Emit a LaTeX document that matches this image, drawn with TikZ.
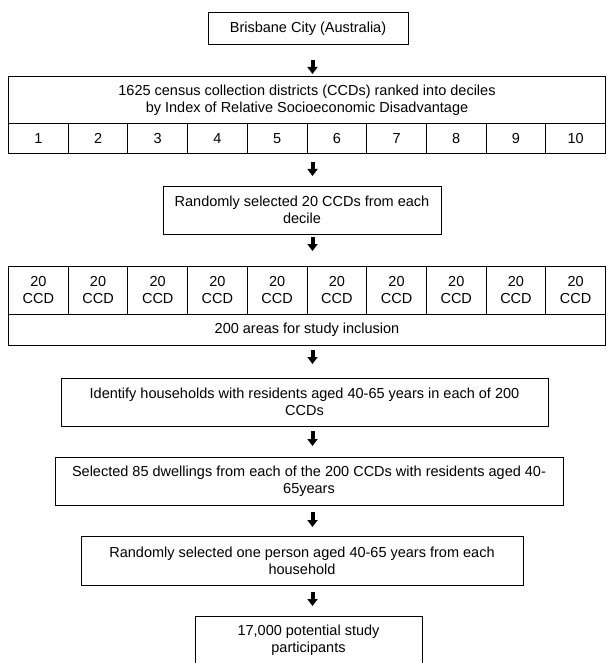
\documentclass[tikz,border=0pt]{standalone}
\usepackage{fontspec}
\setmainfont{Liberation Sans}
\usetikzlibrary{arrows.meta}
\tikzset{
  box/.style={draw=black, line width=1pt, rectangle, inner sep=0pt, align=center,
    font=\fontsize{14.5}{17}\selectfont},
  cell/.style={box, anchor=north west},
  flowarrow/.style={line width=4pt, -{Triangle[width=10pt,length=7pt]}}
}
\begin{document}
\begin{tikzpicture}[x=1pt,y=-1pt]
\useasboundingbox (0,0) rectangle (606,663);
% top box
\node[box, minimum width=200pt, minimum height=32pt] (bris) at (308,29) {Brisbane City (Australia)};
% ranked deciles block
\node[cell, minimum width=597pt, minimum height=47pt] (rank) at (8,76)
  {1625 census collection districts (CCDs) ranked into deciles\\by Index of Relative Socioeconomic Disadvantage};
\foreach \i in {1,...,10}{
  \node[cell, minimum width=59.7pt, minimum height=30pt] (dec\i) at ({8+59.7*(\i-1)},123) {\i};
}
% random 20
\node[box, minimum width=278pt, minimum height=48pt] (rand20) at (302,210)
  {Randomly selected 20 CCDs from each\\decile};
% 20 CCD row
\foreach \i in {1,...,10}{
  \node[cell, minimum width=59.7pt, minimum height=48pt] (ccd\i) at ({8+59.7*(\i-1)},266) {20\\CCD};
}
\node[cell, minimum width=597pt, minimum height=31pt] (areas) at (8,314) {200 areas for study inclusion};
% identify
\node[box, minimum width=487pt, minimum height=48pt] (ident) at (304.5,402)
  {Identify households with residents aged 40-65 years in each of 200\\CCDs};
% selected 85
\node[box, minimum width=508pt, minimum height=48pt] (sel85) at (309,481)
  {Selected 85 dwellings from each of the 200 CCDs with residents aged 40-\\65years};
% random one
\node[box, minimum width=442pt, minimum height=49pt] (randone) at (302,560.5)
  {Randomly selected one person aged 40-65 years from each\\household};
% final
\node[box, minimum width=227pt, minimum height=48pt] (final) at (308.5,640)
  {17,000 potential study\\participants};
% arrows
\coordinate (a1s) at (312.5,60);  \coordinate (a1e) at (312.5,74);
\coordinate (a2s) at (312.5,162); \coordinate (a2e) at (312.5,176);
\coordinate (a3s) at (312.5,237); \coordinate (a3e) at (312.5,251);
\coordinate (a4s) at (312.5,350); \coordinate (a4e) at (312.5,364);
\coordinate (a5s) at (312.5,431); \coordinate (a5e) at (312.5,446);
\coordinate (a6s) at (312.5,512); \coordinate (a6e) at (312.5,527);
\coordinate (a7s) at (312.5,592); \coordinate (a7e) at (312.5,606);
\foreach \k in {1,...,7}{
  \draw[flowarrow] (a\k s) -- (a\k e);
}
\end{tikzpicture}
\end{document}
